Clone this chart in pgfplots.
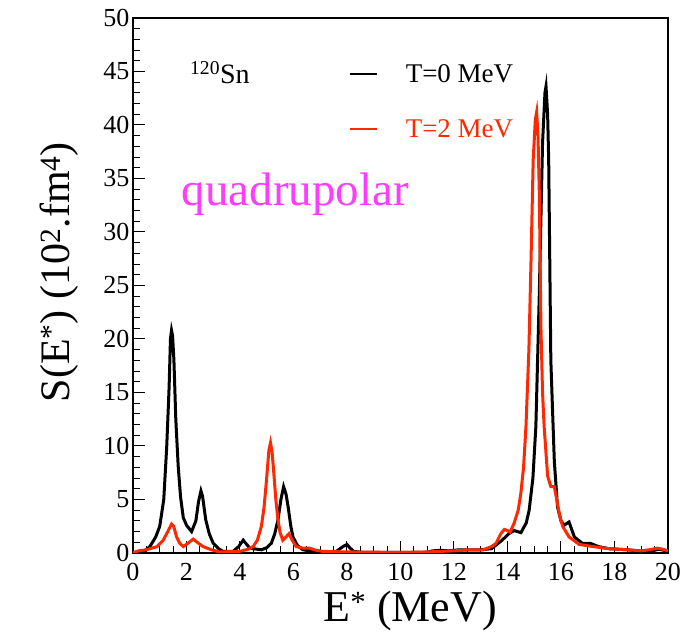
\documentclass[border=0pt]{standalone}
\usepackage{pgfplots}
\pgfplotsset{compat=1.18}
\usepackage{fontspec}
\setmainfont{Liberation Serif}
\definecolor{cred}{RGB}{255,40,0}
\definecolor{cmag}{RGB}{255,60,255}
\begin{document}
\begin{tikzpicture}
\path[use as bounding box] (-133pt,-83pt) rectangle (564pt,553pt);
\begin{axis}[
  at={(0pt,0pt)}, anchor=south west,
  width=535pt, height=535pt, scale only axis,
  xmin=0, xmax=20, ymin=0, ymax=50,
  xtick={0,2,...,20}, ytick={0,5,...,50},
  minor x tick num=3, minor y tick num=4,
  tick pos=left, tick align=inside,
  major tick length=12pt, minor tick length=7pt,
  every tick/.style={black, line width=1pt},
  axis line style={line width=1.5pt},
  /pgf/number format/assume math mode=true,
  ticklabel style={font=\fontsize{26}{28}\selectfont},
  xticklabel style={yshift=-7pt},
  xlabel={E\textsuperscript{*} (MeV)},
  ylabel={S(E\textsuperscript{*}) (10\textsuperscript{2}.fm\textsuperscript{4})},
  xlabel style={font=\fontsize{44}{46}\selectfont, at={(axis description cs:0.518,-0.108)}, anchor=center},
  ylabel style={font=\fontsize{42}{44}\selectfont, at={(axis description cs:-0.138,0.525)}, anchor=center},
  legend style={at={(axis cs:8.04,45.9)}, anchor=north west, draw=none, fill=none,
    font=\fontsize{27}{29}\selectfont, row sep=32pt, column sep=26pt, inner sep=0pt},
  legend cell align=left,
  legend image code/.code={\draw[#1, line width=2.5pt] (0pt,0pt) -- (27pt,0pt);},
]
\addplot[black, line width=3pt] table {
0 0.05
0.4 0.1
0.63 0.6
0.85 1.5
1.0 2.5
1.15 5.0
1.26 9.9
1.35 15.5
1.40 20.0
1.44 20.8
1.48 20.3
1.53 18.0
1.60 12.5
1.69 8.1
1.78 5.2
1.88 3.3
2.0 2.6
2.19 2.0
2.35 3.0
2.45 4.8
2.54 5.8
2.6 5.3
2.72 3.1
2.85 1.8
3.0 0.9
3.2 0.4
3.37 0.15
3.74 0.15
3.95 0.6
4.12 1.2
4.25 0.8
4.37 0.45
4.8 0.3
5.0 0.5
5.17 0.9
5.3 1.8
5.42 3.1
5.53 5.0
5.63 6.2
5.72 5.5
5.8 4.3
5.9 2.5
5.98 1.5
6.15 0.7
6.35 0.3
6.85 0.1
7.6 0.15
7.85 0.6
8.0 0.8
8.1 0.5
8.25 0.15
8.6 0.05
11.0 0.05
11.2 0.2
11.5 0.25
11.8 0.2
12.2 0.3
13.0 0.3
13.4 0.4
13.8 1.2
14.05 1.8
14.25 2.1
14.5 1.9
14.7 2.8
14.81 4.0
14.95 7.0
15.06 11.8
15.19 24.3
15.31 38.3
15.40 43.0
15.44 43.6
15.5 41.0
15.54 36.7
15.62 18.0
15.75 8.6
15.87 4.3
16.0 3.0
16.12 2.6
16.3 2.9
16.4 2.2
16.5 1.5
16.8 0.9
17.1 0.9
17.4 0.6
17.8 0.4
18.5 0.3
19.0 0.15
19.4 0.2
19.66 0.35
19.85 0.25
20 0.15
};
\addlegendentry{T=0 MeV}
\addplot[cred, line width=3pt] table {
0 0.0
0.2 0.2
0.5 0.3
0.7 0.45
0.9 0.6
1.13 1.2
1.3 2.0
1.44 2.7
1.52 2.5
1.63 1.5
1.75 0.9
1.88 0.6
2.05 0.9
2.25 1.3
2.4 1.0
2.62 0.6
2.93 0.3
3.24 0.1
3.99 0.15
4.3 0.35
4.49 0.6
4.65 1.2
4.8 2.5
4.9 4.3
4.99 6.8
5.08 9.6
5.14 10.3
5.2 9.4
5.26 7.6
5.34 5.0
5.42 3.1
5.5 1.9
5.6 1.2
5.72 1.5
5.83 1.8
5.95 1.2
6.1 0.6
6.35 0.45
6.6 0.45
6.85 0.25
7.1 0.15
8.0 0.1
10.0 0.05
11.0 0.1
12.0 0.2
12.6 0.3
13.1 0.3
13.4 0.6
13.57 0.9
13.75 1.8
13.88 2.2
14.0 2.1
14.1 1.95
14.25 2.8
14.4 4.0
14.5 5.6
14.6 8.0
14.69 11.8
14.8 19.0
14.88 27.4
14.96 36.7
15.04 40.5
15.09 41.2
15.14 39.0
15.19 33.6
15.25 21.1
15.31 15.0
15.37 11.8
15.5 7.2
15.62 6.2
15.75 6.2
15.87 4.6
15.95 3.5
16.06 2.5
16.3 1.5
16.68 0.8
17.2 0.6
17.8 0.4
18.5 0.3
19.0 0.2
19.3 0.3
19.6 0.45
19.8 0.35
20 0.2
};
\addlegendentry{\textcolor{cred}{T=2 MeV}}
\node[anchor=base west, font=\fontsize{28}{30}\selectfont, inner sep=0pt] at (axis cs:2.13,43.9) {\textsuperscript{120}Sn};
\node[anchor=base west, font=\fontsize{47}{49}\selectfont, text=cmag, inner sep=0pt] at (axis cs:1.82,32.5) {quadrupolar};
\end{axis}
\end{tikzpicture}
\end{document}
